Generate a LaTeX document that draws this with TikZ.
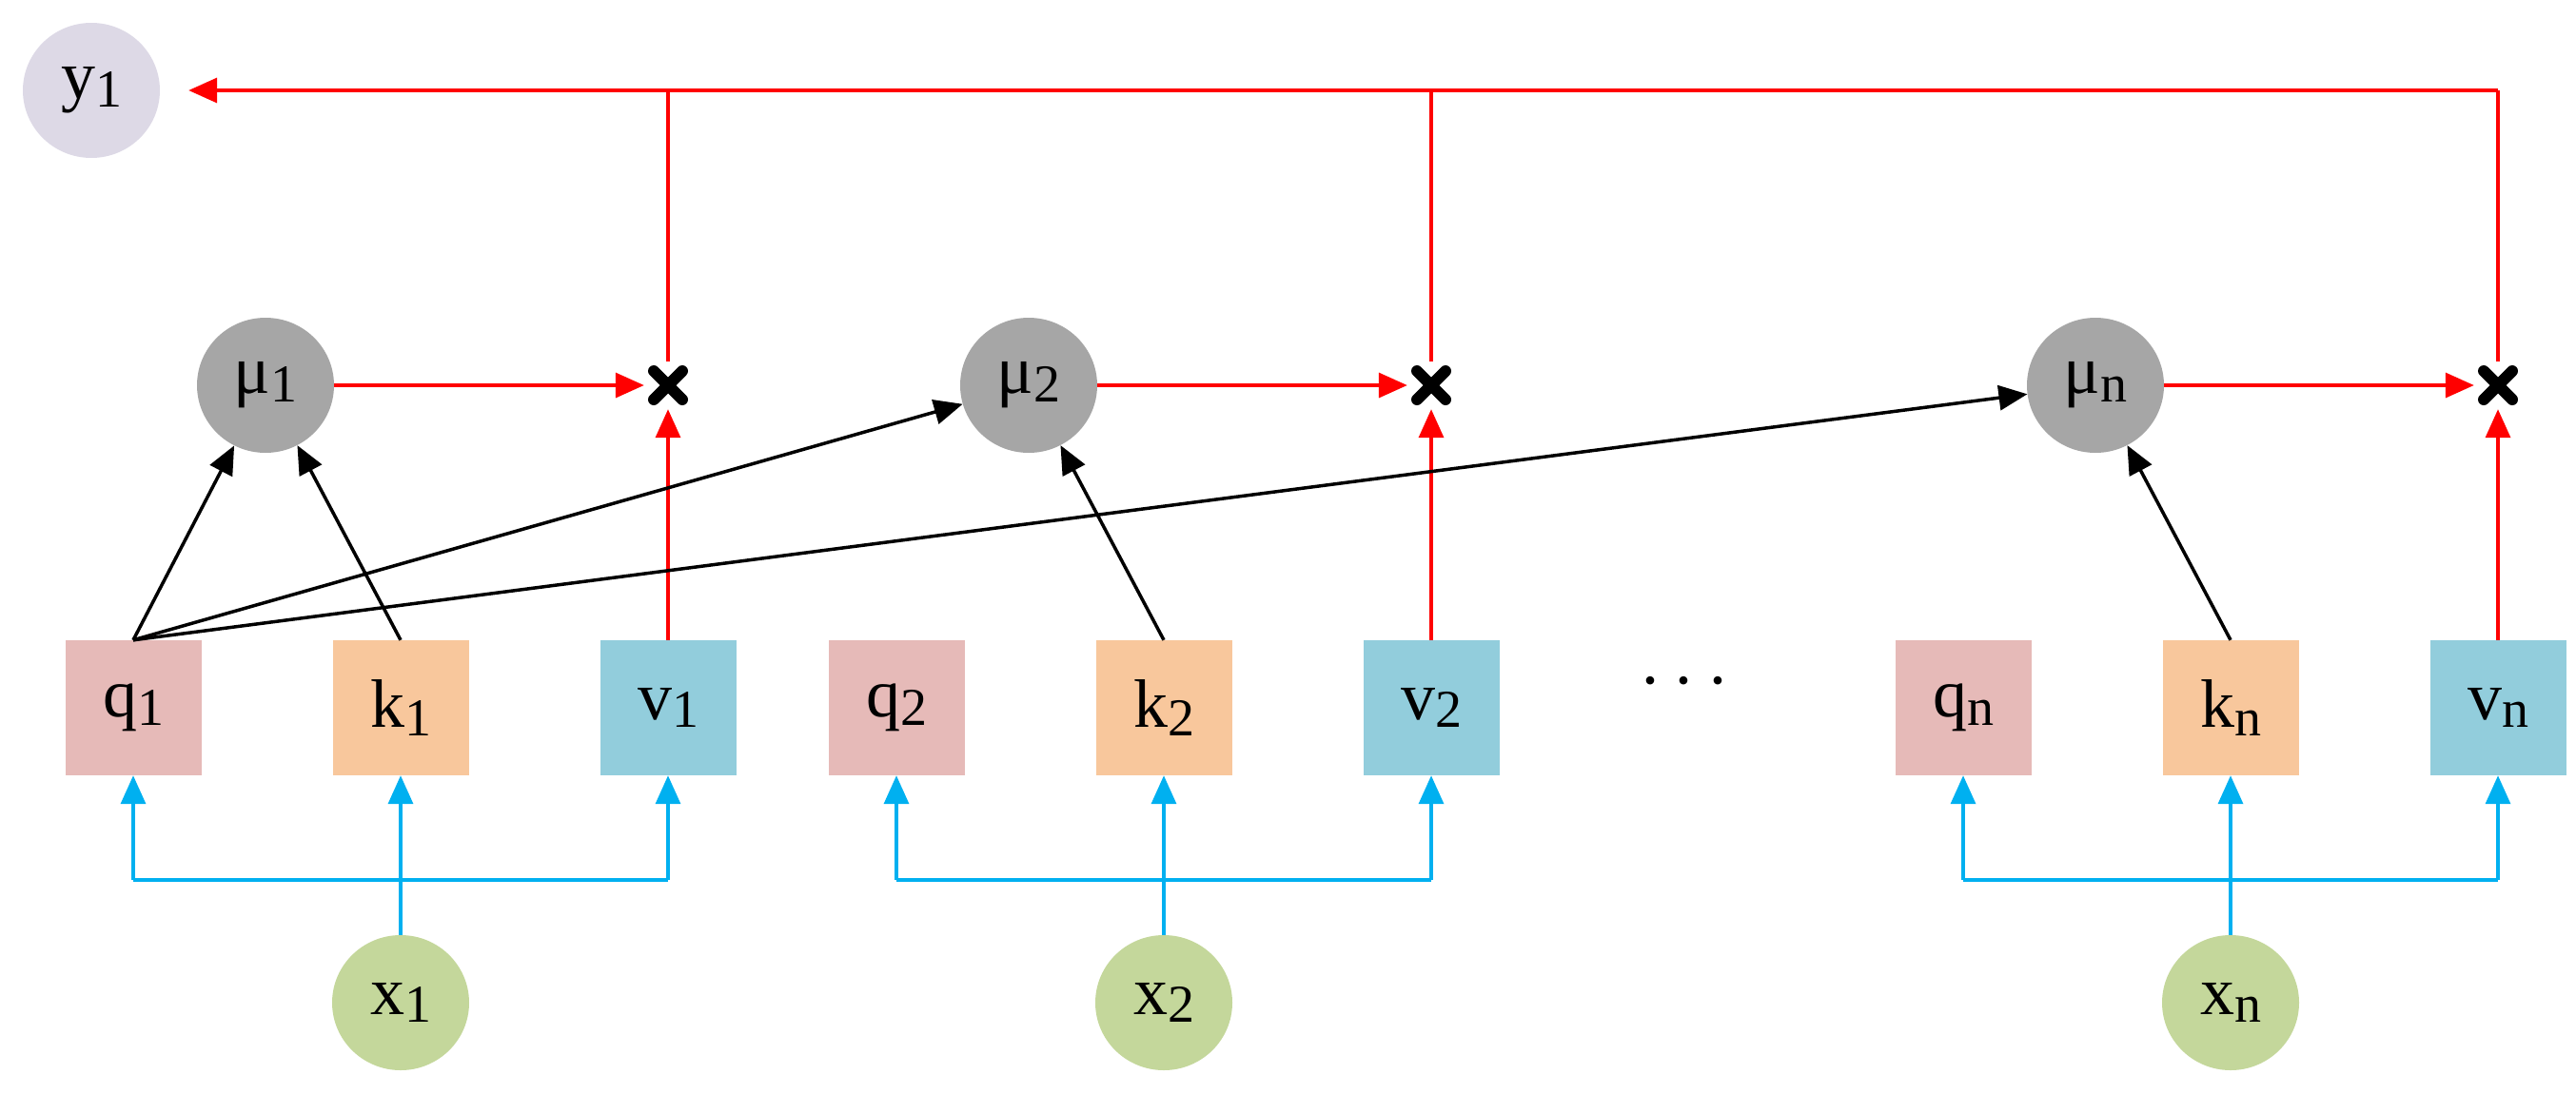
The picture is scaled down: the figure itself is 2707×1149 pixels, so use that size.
\documentclass[tikz,border=0pt]{standalone}
\usepackage{fontspec}
\setmainfont{Liberation Serif}
\usetikzlibrary{arrows.meta,shapes.geometric}
\newcommand{\sbs}[1]{\raisebox{-0.12em}{\fontsize{56}{60}\selectfont #1}}
\begin{document}
\begin{tikzpicture}[x=1pt,y=-1pt,
  lbl/.style={font=\fontsize{72}{80}\selectfont},
  box/.style={lbl,draw=none,minimum width=143pt,minimum height=142pt,inner sep=0pt},
  qb/.style={box,fill=qc}, kb/.style={box,fill=kc}, vb/.style={box,fill=vc},
  ell/.style={lbl,ellipse,minimum width=144pt,minimum height=142pt,inner sep=0pt},
  tip/.style={-{Triangle[length=30pt,width=26pt]}},
  red/.style={draw=rc,line width=3.5pt,tip},
  blk/.style={draw=black,line width=3.5pt,tip},
  blu/.style={draw=bc,line width=3.5pt},
  mult/.style={minimum size=50pt,inner sep=0pt,
    path picture={\draw[line width=12pt,line cap=round] ([xshift=-15pt,yshift=-15pt]path picture bounding box.center)--([xshift=15pt,yshift=15pt]path picture bounding box.center);
    \draw[line width=12pt,line cap=round] ([xshift=-15pt,yshift=15pt]path picture bounding box.center)--([xshift=15pt,yshift=-15pt]path picture bounding box.center);}}]
\definecolor{qc}{HTML}{E6BAB8}\definecolor{kc}{HTML}{F8C79C}\definecolor{vc}{HTML}{92CDDC}
\definecolor{mc}{HTML}{A6A6A6}\definecolor{xc}{HTML}{C4D79B}\definecolor{yc}{HTML}{DDD9E6}
\definecolor{bc}{HTML}{00B0F0}\definecolor{rc}{HTML}{FF0000}
\useasboundingbox (0,0) rectangle (2707,1149);
\node[ell,fill=yc] (y1) at (96,95) {y\sbs{1}};
\foreach \i/\q/\s in {1/140/1, 2/942/2, n/2063/n}{
  \node[qb] (q\i) at (\q,744) {q\sbs{\s}};
  \node[kb] (k\i) at (\q+281,744) {k\sbs{\s}};
  \node[vb] (v\i) at (\q+562,744) {v\sbs{\s}};
  \node[ell,fill=xc] (x\i) at (\q+281,1054) {x\sbs{\s}};
  \node[ell,fill=mc] (m\i) at (\q+139,405) {μ\sbs{\s}};
  \node[mult] (c\i) at (\q+562,405) {};
  \coordinate (t\i) at (\q+562,95);
  \coordinate (b\i) at (\q,925);
  \coordinate (e\i) at (\q+562,925);
  \draw[blu] (b\i) -- (e\i);
  \draw[blu,tip] (b\i) -- (q\i.south);
  \draw[blu,tip] (x\i.north) -- (k\i.south);
  \draw[blu,tip] (e\i) -- (v\i.south);
  \draw[red] (m\i.east) -- (c\i.west);
  \draw[red] (v\i.north) -- (c\i.south);
  \draw[rc,line width=3.5pt] (c\i.north) -- (t\i);
  \draw[blk] (k\i.north) -- (m\i);
}
\node[lbl] (dots) at (1770,725) {·\,·\,·};
\draw[red] (tn) -- ([xshift=30pt]y1.east);
\draw[blk] (q1.north) -- (m1);
\draw[blk] (q1.north) -- (m2);
\draw[blk] (q1.north) -- (mn);
\end{tikzpicture}
\end{document}
